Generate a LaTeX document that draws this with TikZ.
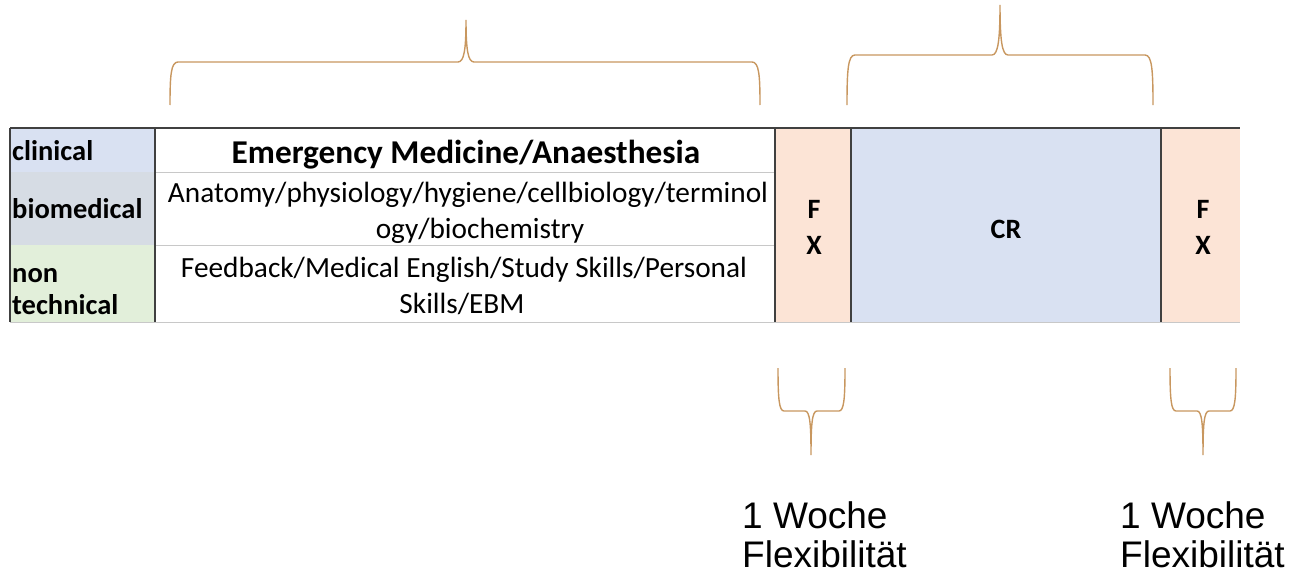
\documentclass[tikz,border=0pt]{standalone}
\usepackage{fontspec}
\setmainfont{Carlito}
\newfontfamily\arialfont{Liberation Sans}
\definecolor{labblue}{HTML}{D9E1F2}
\definecolor{labgray}{HTML}{D6DCE4}
\definecolor{labgreen}{HTML}{E2EFDA}
\definecolor{fxpeach}{HTML}{FCE4D6}
\definecolor{crblue}{HTML}{D9E1F2}
\definecolor{bracecol}{HTML}{C8975F}
\definecolor{darkline}{HTML}{404040}
\definecolor{lightline}{HTML}{C8C8C8}
\tikzset{
  lab/.style={anchor=base west, inner sep=0pt, font=\fontsize{28.5}{34}\selectfont\bfseries},
  title/.style={anchor=base, inner sep=0pt, font=\fontsize{33.3}{38}\selectfont\bfseries},
  body/.style={anchor=base, inner sep=0pt, font=\fontsize{29.3}{34}\selectfont},
  fx/.style={anchor=base, inner sep=0pt, font=\fontsize{28}{30}\selectfont\bfseries},
  note/.style={anchor=base west, inner sep=0pt, font=\arialfont\fontsize{37}{40}\selectfont},
  brace/.style={draw=bracecol, line width=1.4pt},
  dark/.style={draw=darkline, line width=1.6pt},
  light/.style={draw=lightline, line width=1pt},
}
\begin{document}
\begin{tikzpicture}[x=1pt,y=-1pt]
\useasboundingbox (0,0) rectangle (1295,578);
% cell fills
\fill[labblue] (10,128) rectangle (155,172);
\fill[labgray] (10,172) rectangle (155,245);
\fill[labgreen] (10,245) rectangle (155,322);
\fill[white] (155,128) rectangle (775,322);
\fill[fxpeach] (775,128) rectangle (851,322);
\fill[crblue] (851,128) rectangle (1161,322);
\fill[fxpeach] (1161,128) rectangle (1240,322);
% grid lines
\draw[light] (155,172) -- (775,172);
\draw[light] (155,245) -- (775,245);
\draw[light] (10,322) -- (1240,322);
\draw[dark] (10,128) -- (1240,128);
\draw[dark] (10,128) -- (10,322);
\draw[dark] (155,128) -- (155,322);
\draw[dark] (775,128) -- (775,322);
\draw[dark] (851,128) -- (851,322);
\draw[dark] (1161,128) -- (1161,322);
% labels
\node[lab] (clin) at (12,160) {clinical};
\node[lab] (biom) at (12,218) {biomedical};
\node[lab] (non) at (12,282) {non};
\node[lab] (tech) at (12,314) {technical};
% main column
\node[title] (em) at (466,163) {Emergency Medicine/Anaesthesia};
\node[body] (ana1) at (468,202) {Anatomy/physiology/hygiene/cellbiology/terminol};
\node[body] (ana2) at (480,238) {ogy/biochemistry};
\node[body] (fb1) at (464,277) {Feedback/Medical English/Study Skills/Personal};
\node[body] (fb2) at (462,313) {Skills/EBM};
% FX and CR
\node[fx] (fxaF) at (814,218) {F};
\node[fx] (fxaX) at (814,254) {X};
\node[fx] (cr) at (1006,238) {CR};
\node[fx] (fxbF) at (1203,218) {F};
\node[fx] (fxbX) at (1203,254) {X};
% top braces
\draw[brace] (170,105) .. controls (170,75) and (171,62) .. (178,62) -- (458,62)
  .. controls (464,62) and (466,50) .. (466,20)
  .. controls (466,50) and (468,62) .. (474,62) -- (752,62)
  .. controls (759,62) and (760,75) .. (760,105);
\draw[brace] (847,105) .. controls (847,70) and (848,55) .. (855,55) -- (992,55)
  .. controls (998,55) and (1000,40) .. (1000,5)
  .. controls (1000,40) and (1002,55) .. (1008,55) -- (1145,55)
  .. controls (1152,55) and (1153,70) .. (1153,105);
% bottom braces
\draw[brace] (778,368) .. controls (778,398) and (779,411) .. (784,411) -- (805,411)
  .. controls (810,411) and (811,425) .. (811,455)
  .. controls (811,425) and (812,411) .. (817,411) -- (839,411)
  .. controls (844,411) and (845,398) .. (845,368);
\draw[brace] (1170,368) .. controls (1170,398) and (1171,411) .. (1176,411) -- (1197,411)
  .. controls (1202,411) and (1203,425) .. (1203,455)
  .. controls (1203,425) and (1204,411) .. (1209,411) -- (1230,411)
  .. controls (1235,411) and (1236,398) .. (1236,368);
% notes
\node[note] (w1) at (742,528) {1 Woche};
\node[note] (f1) at (742,567) {Flexibilität};
\node[note] (w2) at (1120,528) {1 Woche};
\node[note] (f2) at (1120,567) {Flexibilität};
\end{tikzpicture}
\end{document}
